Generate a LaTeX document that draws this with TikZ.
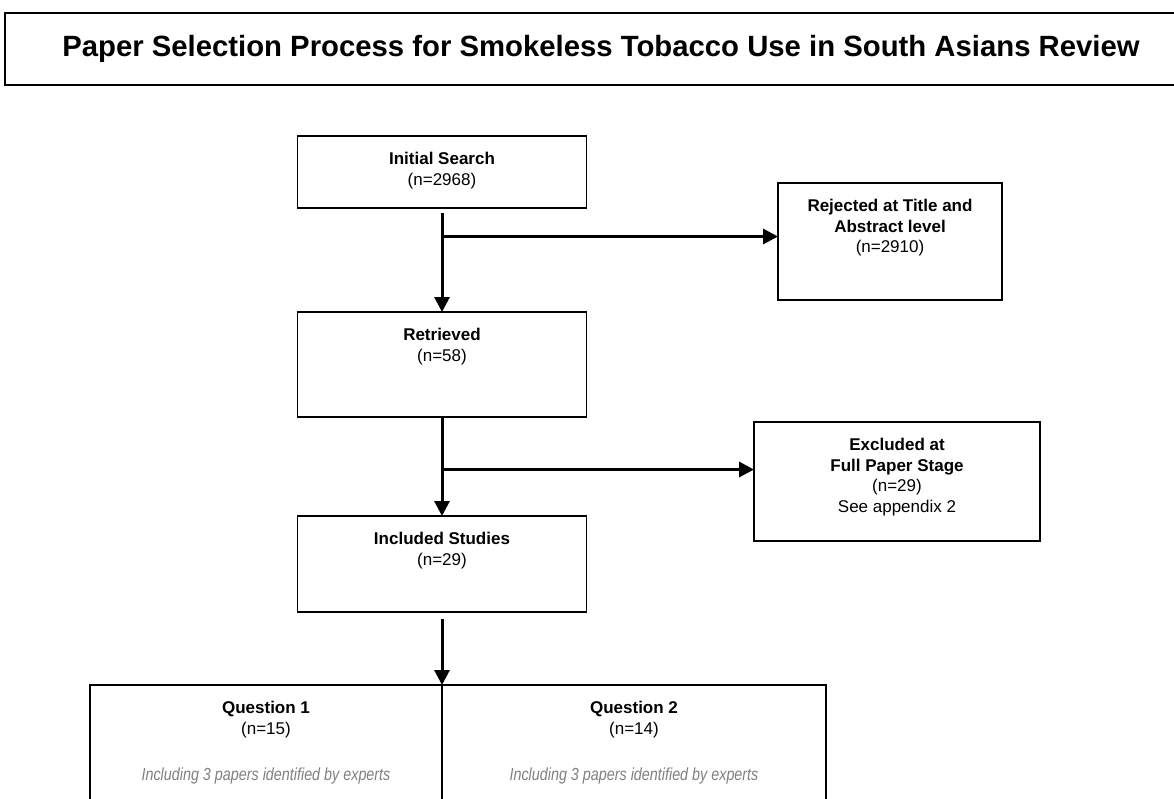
\documentclass[tikz,border=0pt]{standalone}
\usepackage{fontspec}
\setmainfont{Liberation Sans}
\newfontfamily\narrowfont[FakeStretch=0.82]{Liberation Sans}
\usepackage{xcolor}
\usepackage{tikz}
\usetikzlibrary{arrows.meta, positioning}
\definecolor{notegray}{RGB}{128,128,128}
\tikzstyle{stage} = [rectangle, draw=black, line width=1.9pt, minimum width=289pt, inner sep=0pt, outer sep=0pt]
\tikzstyle{stagetext} = [anchor=north, align=center, inner sep=0pt, yshift=-16pt, font=\fontsize{17}{20.5}\selectfont]
\tikzstyle{arrow} = [line width=3pt, -{Triangle[length=15pt,width=15pt]}]
\newcommand{\expertnote}{{\color{notegray}\narrowfont\itshape\fontsize{17.5}{20}\selectfont Including 3 papers identified by experts}}

\begin{document}
\begin{tikzpicture}[x=1pt, y=1pt]
  \useasboundingbox (0,0) rectangle (1174,-798);
  \clip (0,0) rectangle (1174,-798);

  % Title
  \node (title) [stage, minimum width=1192pt, minimum height=72pt, font=\bfseries\fontsize{29.3}{33}\selectfont] at (601,-49) {Paper Selection Process for Smokeless Tobacco Use in South Asians Review};

  % Main stages
  \node (search) [stage, minimum height=72pt, label={[stagetext]north:{\textbf{Initial Search}\\(n=2968)}}] at (442,-172) {};
  \node (retrieved) [stage, minimum height=105pt, below=104pt of search, label={[stagetext]north:{\textbf{Retrieved}\\(n=58)}}] {};
  \node (included) [stage, minimum height=96pt, below=99pt of retrieved, label={[stagetext]north:{\textbf{Included Studies}\\(n=29)}}] {};

  % Side stages
  \node (rejected) [stage, minimum width=224pt, minimum height=117pt, label={[stagetext]north:{\textbf{Rejected at Title and}\\\textbf{Abstract level}\\(n=2910)}}] at (890,-241.5) {};
  \node (excluded) [stage, minimum width=286pt, minimum height=119pt, label={[stagetext]north:{\textbf{Excluded at}\\\textbf{Full Paper Stage}\\(n=29)\\See appendix 2}}] at (897,-481.5) {};

  % Questions
  \node (q1) [stage, minimum width=352pt, minimum height=140pt, anchor=north east, label={[stagetext]north:{\textbf{Question 1}\\(n=15)\\[26pt]\expertnote}}] at (442,-685) {};
  \node (q2) [stage, minimum width=384pt, minimum height=140pt, anchor=north west, label={[stagetext]north:{\textbf{Question 2}\\(n=14)\\[26pt]\expertnote}}] at (q1.north east) {};

  % Arrows
  \draw[arrow] ([yshift=-5pt]search.south) -- (retrieved.north);
  \draw[arrow] ([yshift=5pt]rejected.west -| search.south) -- ([yshift=5pt]rejected.west);
  \draw[arrow] (retrieved.south) -- (included.north);
  \draw[arrow] ([yshift=12pt]excluded.west -| retrieved.south) -- ([yshift=12pt]excluded.west);
  \draw[arrow] ([yshift=-7pt]included.south) -- (q1.north east);
\end{tikzpicture}
\end{document}
